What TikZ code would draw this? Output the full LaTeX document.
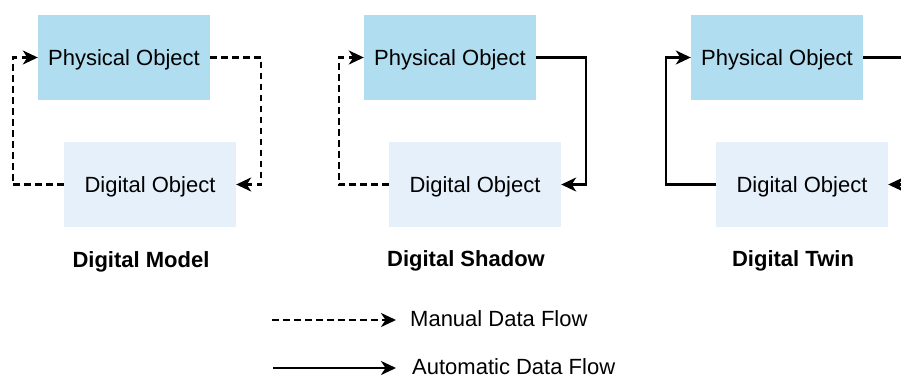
\documentclass[tikz,border=0pt]{standalone}
\usepackage{fontspec}
\setmainfont{Liberation Sans}
\usetikzlibrary{arrows.meta}
\definecolor{physblue}{HTML}{B1DDF0}
\definecolor{digiblue}{HTML}{E5F0FA}
\begin{document}
\begin{tikzpicture}[x=1pt,y=-1pt,
  every node/.style={font=\fontsize{22}{26}\selectfont,text height=15.8pt,text depth=0pt},
  physbox/.style={rectangle,fill=physblue,minimum width=172pt,minimum height=85pt,inner sep=0pt},
  digibox/.style={rectangle,fill=digiblue,minimum width=172pt,minimum height=85pt,inner sep=0pt},
  title/.style={font=\fontsize{22}{26}\selectfont\bfseries},
  flow/.style={line width=2.2pt,-{Stealth[length=15pt,width=14pt,inset=4.5pt]}},
  manual/.style={flow,dash pattern=on 6.5pt off 4.5pt},
  auto/.style={flow}]
\useasboundingbox (0,0) rectangle (901,378);
% Digital Model
\node[physbox] (p1) at (124,57.5) {Physical Object};
\node[digibox] (d1) at (150,184.5) {Digital Object};
\draw[manual] (d1.west) -- ++(-51,0) |- (p1.west);
\draw[manual] (p1.east) -- ++(51,0) |- (d1.east);
\node[title] (t1) at (141,260) {Digital Model};
% Digital Shadow
\node[physbox] (p2) at (450,57.5) {Physical Object};
\node[digibox] (d2) at (475,184.5) {Digital Object};
\draw[manual] (d2.west) -- ++(-50,0) |- (p2.west);
\draw[auto] (p2.east) -- ++(50,0) |- (d2.east);
\node[title] (t2) at (466,258.5) {Digital Shadow};
% Digital Twin
\node[physbox] (p3) at (777,57.5) {Physical Object};
\node[digibox] (d3) at (802,184.5) {Digital Object};
\draw[auto] (d3.west) -- ++(-50,0) |- (p3.west);
\draw[auto] (p3.east) -- ++(50,0) |- (d3.east);
\node[title] (t3) at (793,258.5) {Digital Twin};
% Legend
\node[anchor=west,inner sep=0pt] (lm) at (410,319) {Manual Data Flow};
\node[anchor=west,inner sep=0pt] (la) at (412,367) {Automatic Data Flow};
\coordinate (lm0) at (272,320);
\coordinate (lm1) at (396,320);
\coordinate (la0) at (273,368);
\coordinate (la1) at (396,368);
\draw[manual] (lm0) -- (lm1);
\draw[auto] (la0) -- (la1);
\end{tikzpicture}
\end{document}
